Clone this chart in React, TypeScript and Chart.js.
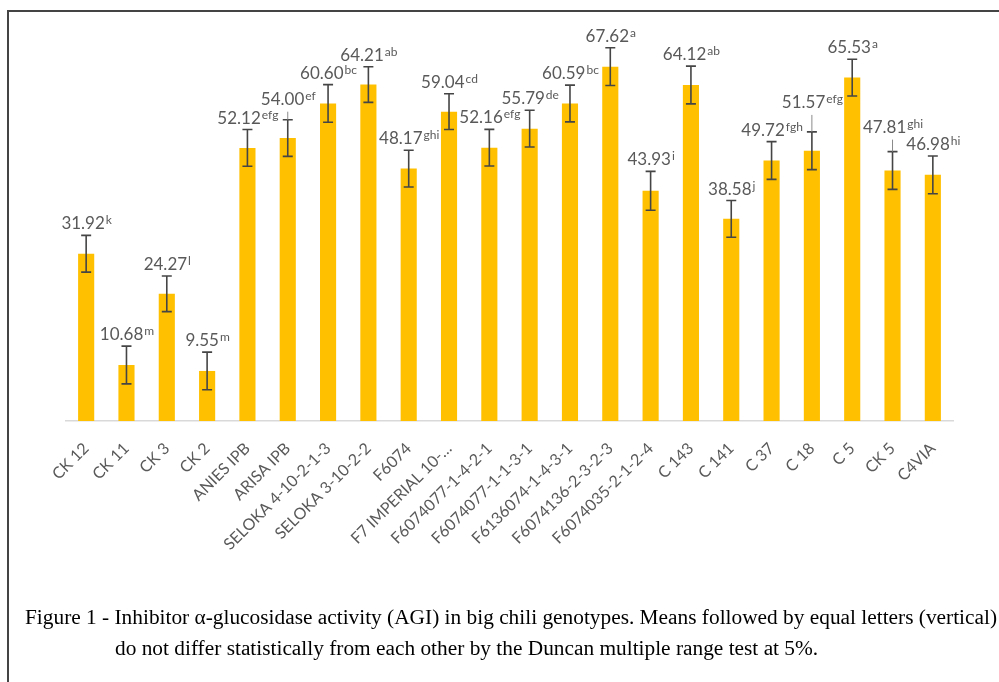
import React, { useEffect, useRef, useState } from "react";
import { Chart, registerables } from "chart.js";

Chart.register(...registerables);

const categories = [
  "CK 12", "CK 11", "CK 3", "CK 2", "ANIES IPB", "ARISA IPB",
  "SELOKA 4-10-2-1-3", "SELOKA 3-10-2-2", "F6074", "F7 IMPERIAL 10-…",
  "F6074077-1-4-2-1", "F6074077-1-1-3-1", "F6136074-1-4-3-1",
  "F6074136-2-3-2-3", "F6074035-2-1-2-4", "C 143", "C 141", "C 37",
  "C 18", "C 5", "CK 5", "C4VIA",
];
const agiValues = [
  31.92, 10.68, 24.27, 9.55, 52.12, 54.0, 60.6, 64.21, 48.17, 59.04,
  52.16, 55.79, 60.59, 67.62, 43.93, 64.12, 38.58, 49.72, 51.57, 65.53,
  47.81, 46.98,
];
const agiErrors = [
  3.5, 3.6, 3.4, 3.6, 3.5, 3.5, 3.6, 3.4, 3.5, 3.4, 3.5,
  3.5, 3.5, 3.6, 3.7, 3.6, 3.5, 3.6, 3.6, 3.5, 3.6, 3.6,
];
const duncanLetters = [
  "k", "m", "l", "m", "efg", "ef", "bc", "ab", "ghi", "cd", "efg",
  "de", "bc", "a", "i", "ab", "j", "fgh", "efg", "a", "ghi", "hi",
];
// extra lift (px) of a few moved data labels, which get a leader line
const labelLift = [0, 0, 0, 0, 0, 9, 0, 0, 0, 0, 0, 0, 0, 0, 0, 0, 0, 0, 18, 0, 13, 0];

const captionLine1 =
  "Figure 1 - Inhibitor α-glucosidase activity (AGI) in big chili genotypes. Means followed by equal letters (vertical)";
const captionLine2 =
  "do not differ statistically from each other by the Duncan multiple range test at 5%.";

const TEXT_GREY = "#595959";
const FONT = "Lato, 'Noto Sans', sans-serif";

const errorLabelPlugin = {
  id: "errorLabels",
  afterDatasetsDraw(chart: any) {
    const ctx = chart.ctx;
    const meta = chart.getDatasetMeta(0);
    const y = chart.scales.y;
    ctx.save();
    meta.data.forEach((bar: any, i: number) => {
      const x = bar.x;
      const v = agiValues[i];
      const e = agiErrors[i];
      const yTop = y.getPixelForValue(v + e);
      const yBot = y.getPixelForValue(v - e);
      ctx.strokeStyle = "#454545";
      ctx.lineWidth = 1.6;
      ctx.beginPath();
      ctx.moveTo(x, yTop);
      ctx.lineTo(x, yBot);
      ctx.moveTo(x - 5, yTop);
      ctx.lineTo(x + 5, yTop);
      ctx.moveTo(x - 5, yBot);
      ctx.lineTo(x + 5, yBot);
      ctx.stroke();

      const lift = labelLift[i];
      const baseline = yTop - 6 - lift;
      if (lift > 0) {
        ctx.strokeStyle = "#8a8a8a";
        ctx.lineWidth = 1;
        ctx.beginPath();
        ctx.moveTo(x, yTop);
        ctx.lineTo(x, baseline + 7);
        ctx.stroke();
      }
      const main = v.toFixed(2);
      const sup = duncanLetters[i];
      ctx.font = `17px ${FONT}`;
      const wMain = ctx.measureText(main).width;
      ctx.font = `12px ${FONT}`;
      const wSup = ctx.measureText(sup).width;
      const left = x - (wMain + wSup) / 2;
      ctx.fillStyle = TEXT_GREY;
      ctx.textBaseline = "alphabetic";
      ctx.textAlign = "left";
      ctx.font = `17px ${FONT}`;
      ctx.fillText(main, left, baseline);
      ctx.font = `12px ${FONT}`;
      ctx.fillText(sup, left + wMain + 1, baseline - 5);
    });
    ctx.restore();
  },
};

function Caption() {
  const [scale, setScale] = useState(0.9);
  useEffect(() => {
    const c = document.createElement("canvas").getContext("2d");
    if (c) {
      c.font = "20px 'Liberation Serif'";
      const w = c.measureText(captionLine1).width;
      if (w > 0) setScale(972 / w);
    }
  }, []);
  const common: React.CSSProperties = {
    position: "absolute",
    fontFamily: "'Liberation Serif', 'Times New Roman', serif",
    fontSize: 20,
    lineHeight: "20px",
    whiteSpace: "nowrap",
    color: "#000",
    transformOrigin: "0 0",
    transform: `scaleX(${scale})`,
  };
  return (
    <>
      <div style={{ ...common, left: 25, top: 607 }}>{captionLine1}</div>
      <div style={{ ...common, left: 115, top: 638 }}>{captionLine2}</div>
    </>
  );
}

export default function App() {
  const canvasRef = useRef<HTMLCanvasElement | null>(null);

  useEffect(() => {
    const canvas = canvasRef.current;
    if (!canvas) return;
    const chart = new Chart(canvas, {
      type: "bar",
      data: {
        labels: categories,
        datasets: [
          {
            data: agiValues,
            backgroundColor: "#FFC000",
            borderWidth: 0,
            barPercentage: 0.4,
            categoryPercentage: 1,
          },
        ],
      },
      options: {
        animation: false,
        responsive: false,
        devicePixelRatio: 1,
        layout: { padding: { left: 66, right: 46, top: 28, bottom: 111 } },
        plugins: {
          legend: { display: false },
          tooltip: { enabled: false },
        },
        scales: {
          x: {
            grid: { display: false, drawTicks: false },
            border: { display: true, color: "#d9d9d9", width: 1.5 },
            ticks: {
              autoSkip: false,
              minRotation: 45,
              maxRotation: 45,
              color: TEXT_GREY,
              padding: 18,
              font: { family: FONT, size: 16 },
            },
            afterFit(scale: any) {
              scale.height = 150;
              scale.paddingLeft = 0;
              scale.paddingRight = 0;
            },
          },
          y: {
            display: false,
            min: 0,
            max: 75,
          },
        },
      },
      plugins: [errorLabelPlugin],
    });
    return () => chart.destroy();
  }, []);

  return (
    <div style={{ position: "absolute", left: 0, top: 0, width: 999, height: 682, overflow: "hidden", background: "#fff" }}>
      <div
        style={{
          position: "absolute",
          left: 7,
          top: 10,
          width: 1000,
          height: 700,
          borderLeft: "2px solid #444",
          borderTop: "2px solid #444",
        }}
      />
      <canvas
        ref={canvasRef}
        width={999}
        height={682}
        style={{ position: "absolute", left: 0, top: 0, width: 999, height: 682 }}
      />
      <Caption />
    </div>
  );
}
